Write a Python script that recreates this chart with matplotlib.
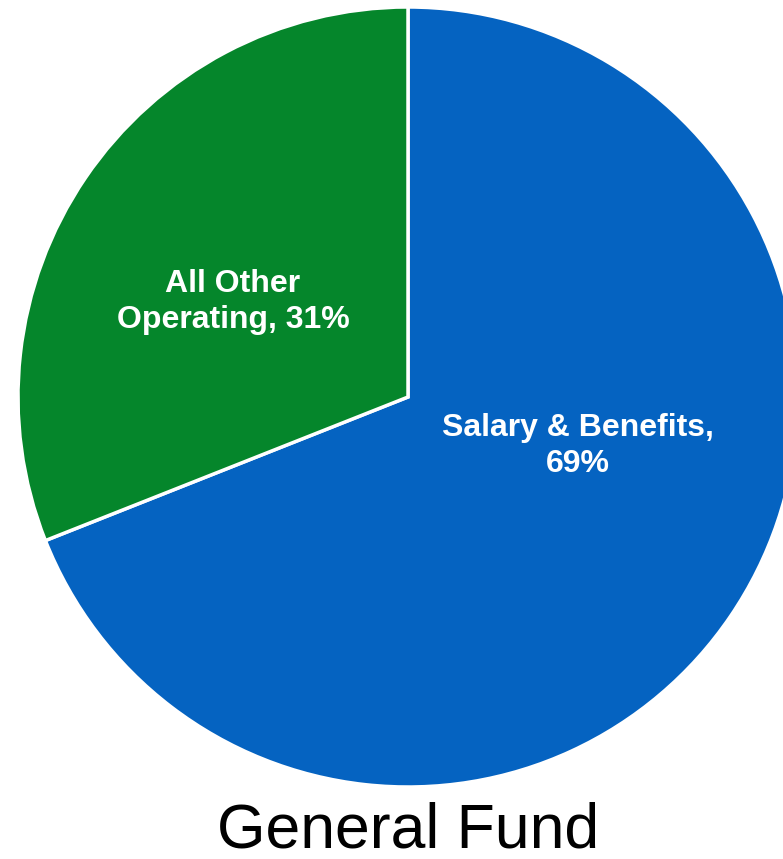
import matplotlib

matplotlib.use("Agg")
import matplotlib.pyplot as plt

categories = ["Salary & Benefits", "All Other Operating"]
shares = [69, 31]
colors = ["#0563C1", "#05862B"]

plt.rcParams["font.family"] = ["Liberation Sans", "DejaVu Sans"]

W, H = 783, 859
fig = plt.figure(figsize=(W / 100, H / 100), dpi=100)
ax = fig.add_axes([0, 0, 1, 1])

ax.pie(
    shares,
    colors=colors,
    startangle=90,
    counterclock=False,
    center=(408, H - 397),
    radius=390,
    wedgeprops={"edgecolor": "white", "linewidth": 2.5},
    frame=True,
)
ax.set_xlim(0, W)
ax.set_ylim(0, H)
ax.set_aspect("equal")
ax.axis("off")

label_style = dict(color="white", fontsize=23, fontweight="bold",
                   ha="center", va="center", linespacing=1.22)
ax.text(578, H - 446, f"{categories[0]},\n{shares[0]}%", **label_style)
ax.text(233, H - 302, "All Other\nOperating, {}%".format(shares[1]), **label_style)

ax.text(408, H - 847, "General Fund", fontsize=45, ha="center", va="baseline")

fig.savefig("out.png", dpi=100)
